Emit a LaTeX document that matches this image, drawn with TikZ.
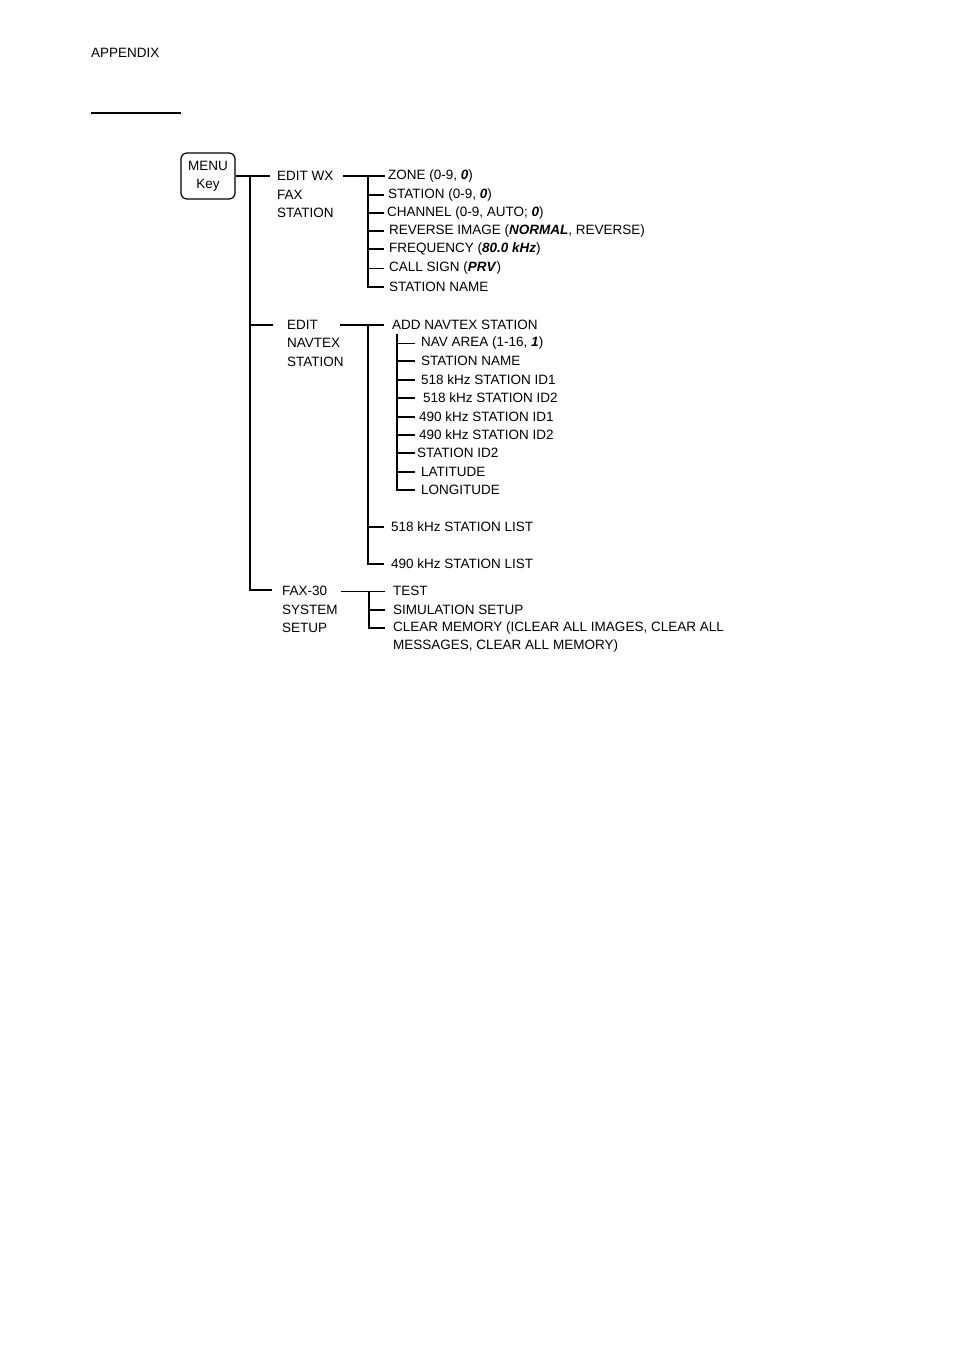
\documentclass[tikz,border=0pt]{standalone}
\usepackage{fontspec}
\setmainfont{Liberation Sans}
\begin{document}
\begin{tikzpicture}[x=1pt,y=-1pt,
  lbl/.style={anchor=west,inner sep=0pt,font=\fontsize{13.5}{16}\selectfont},
  ln/.style={line width=1.6pt},
  thin/.style={line width=0.9pt}]
\useasboundingbox (0,0) rectangle (954,1351);
\node[lbl] (app) at (91,53) {APPENDIX};
\draw[ln] (91,113) -- (181,113);
\node[draw,rounded corners=6pt,line width=1.2pt,minimum width=54pt,minimum height=46pt,inner sep=0pt,align=center,font=\fontsize{13.5}{18}\selectfont] (menu) at (208,176) {MENU\\Key};
\coordinate (m1) at (250,176);
\coordinate (m2) at (250,325);
\coordinate (m3) at (250,590);
\draw[ln] (menu.east) -- (270,176);
\draw[ln] (m1) -- (m3) -- (272,590);
\draw[ln] (m2) -- (273,325);
% level 1 labels
\node[lbl] at (277,176) {EDIT WX};
\node[lbl] at (277,195) {FAX};
\node[lbl] at (277,213) {STATION};
\node[lbl] at (287,325) {EDIT};
\node[lbl] at (287,343) {NAVTEX};
\node[lbl] at (287,362) {STATION};
\node[lbl] at (282,591) {FAX-30};
\node[lbl] at (282,610) {SYSTEM};
\node[lbl] at (282,628) {SETUP};
% WX branch
\draw[ln] (343,176) -- (385,176);
\draw[ln] (368,176) -- (368,287) -- (384,287);
\foreach \y in {195,213,231,249} \draw[ln] (368,\y) -- (384,\y);
\draw[thin] (368,268) -- (384,268);
\node[lbl] at (388,176) {ZONE (0-9, \textbf{\textit{0}})};
\node[lbl] at (388,195) {STATION (0-9, \textbf{\textit{0}})};
\node[lbl] at (387,213) {CHANNEL (0-9, AUTO; \textbf{\textit{0}})};
\node[lbl] at (389,231) {REVERSE IMAGE (\textbf{\textit{NORMAL}}, REVERSE)};
\node[lbl] at (389,249) {FREQUENCY (\textbf{\textit{80.0 kHz}})};
\node[lbl] at (389,268) {CALL SIGN (\textbf{\textit{PRV}})};
\node[lbl] at (389,287) {STATION NAME};
% NAVTEX branch
\draw[ln] (340,325) -- (384,325);
\draw[ln] (368,325) -- (368,564) -- (384,564);
\draw[ln] (368,527) -- (384,527);
\node[lbl] at (392,325) {ADD NAVTEX STATION};
\node[lbl] at (391,527) {518 kHz STATION LIST};
\node[lbl] at (391,564) {490 kHz STATION LIST};
\draw[ln] (397,334) -- (397,490) -- (415,490);
\foreach \y in {361,380,398,417,435,453,472} \draw[ln] (397,\y) -- (415,\y);
\draw[thin] (397,343) -- (415,343);
\node[lbl] at (421,343) {NAV AREA (1-16, \textbf{\textit{1}})};
\node[lbl] at (421,361) {STATION NAME};
\node[lbl] at (421,380) {518 kHz STATION ID1};
\node[lbl] at (423,398) {518 kHz STATION ID2};
\node[lbl] at (419,417) {490 kHz STATION ID1};
\node[lbl] at (419,435) {490 kHz STATION ID2};
\node[lbl] at (417,453) {STATION ID2};
\node[lbl] at (421,472) {LATITUDE};
\node[lbl] at (421,490) {LONGITUDE};
% FAX-30 branch
\draw[thin] (341,591) -- (385,591);
\draw[ln] (369,591) -- (369,628) -- (385,628);
\draw[ln] (369,610) -- (385,610);
\node[lbl] at (393,591) {TEST};
\node[lbl] at (393,610) {SIMULATION SETUP};
\node[lbl] at (393,628) {CLEAR MEMORY (ICLEAR ALL IMAGES, CLEAR ALL};
\node[lbl] at (393,646) {MESSAGES, CLEAR ALL MEMORY)};
\end{tikzpicture}
\end{document}
